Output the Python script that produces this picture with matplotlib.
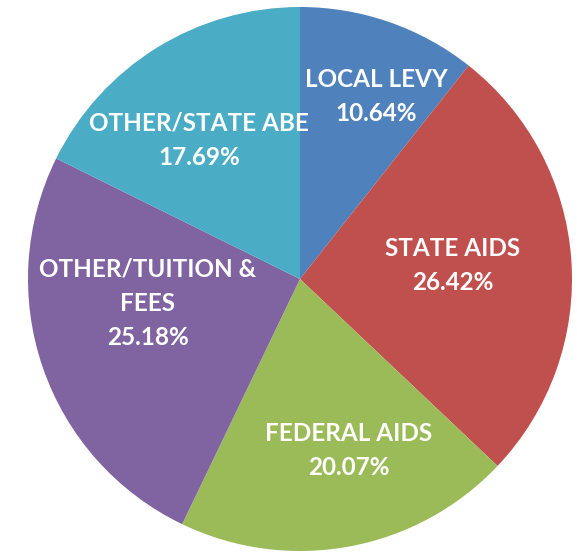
import matplotlib.pyplot as plt
import numpy as np

# Data for the revenue breakdown
labels = ['LOCAL LEVY', 'STATE AIDS', 'FEDERAL AIDS', 'OTHER/TUITION &\nFEES', 'OTHER/STATE ABE']
shares = np.array([10.64, 26.42, 20.07, 25.18, 17.69])
colors = ['#4F81BD', '#C0504D', '#9BBB59', '#8064A2', '#4BACC6']

# label anchor offsets from the pie centre, as fractions of the radius
label_offsets = [(0.28, 0.67), (0.56, 0.05), (0.18, -0.63), (-0.56, -0.09), (-0.37, 0.51)]

fig = plt.figure(figsize=(5.77, 5.54), dpi=100)
ax = fig.add_axes([0, 0, 1, 1])

cx, cy, r = 300, 275, 272
wedges, _ = ax.pie(shares, colors=colors, startangle=90, counterclock=False,
                   center=(cx, cy), radius=r, frame=True,
                   wedgeprops=dict(linewidth=0))

for lab, val, (dx, dy) in zip(labels, shares, label_offsets):
    ax.text(cx + dx * r, cy + dy * r, f'{lab}\n{val:.2f}%', ha='center', va='center',
            color='white', fontsize=17.5, fontweight='bold', family='Lato',
            linespacing=1.6)

ax.set_xlim(0, 577)
ax.set_ylim(0, 554)
ax.set_aspect('equal')
ax.axis('off')

fig.savefig('out.png', dpi=100)
plt.close(fig)
